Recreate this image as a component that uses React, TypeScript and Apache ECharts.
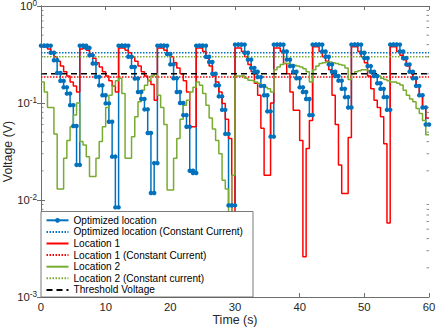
import React, { useEffect, useRef } from 'react';
import * as echarts from 'echarts';

// ---- data ----
const timeStart = 0;
const timeStep = 0.5;
const xMin = 0;
const xMax = 60;
const xInterval = 10;
const yMin = 0.001;
const yMax = 1;

const optimizedLocation = [
  0.39, 0.39, 0.39, 0.33, 0.276, 0.204, 0.169, 0.145, 0.125, 0.095, 0.058, 0.023,
  0.39, 0.39, 0.37, 0.31, 0.255, 0.186, 0.152, 0.12, 0.099, 0.064, 0.028, 0.0084,
  0.39, 0.39, 0.39, 0.30, 0.235, 0.179, 0.13, 0.11, 0.086, 0.049, 0.0118, 0.024,
  0.39, 0.39, 0.39, 0.32, 0.25, 0.18, 0.13, 0.10, 0.075, 0.057, 0.02, 0.019,
  0.39, 0.39, 0.39, 0.30, 0.265, 0.2, 0.152, 0.117, 0.085, 0.048, 0.0088, 0.0088,
  0.40, 0.40, 0.40, 0.33, 0.28, 0.23, 0.21, 0.185, 0.15, 0.12, 0.082, 0.045,
  0.40, 0.40, 0.40, 0.34, 0.28, 0.24, 0.21, 0.18, 0.145, 0.13, 0.11, 0.075,
  0.40, 0.40, 0.40, 0.34, 0.30, 0.25, 0.21, 0.19, 0.17, 0.14, 0.115, 0.09,
  0.40, 0.40, 0.40, 0.33, 0.29, 0.24, 0.21, 0.19, 0.16, 0.14, 0.115, 0.085,
  0.40, 0.40, 0.40, 0.34, 0.29, 0.25, 0.21, 0.18, 0.15, 0.12, 0.09, 0.06,
];

const location1 = [
  0.38, 0.38, 0.36, 0.33, 0.30, 0.27, 0.24, 0.21, 0.19, 0.165, 0.15, 0.13,
  0.36, 0.37, 0.35, 0.32, 0.29, 0.26, 0.235, 0.21, 0.19, 0.17, 0.15, 0.13,
  0.37, 0.37, 0.35, 0.33, 0.30, 0.27, 0.24, 0.21, 0.19, 0.17, 0.155, 0.107,
  0.37, 0.37, 0.35, 0.33, 0.30, 0.26, 0.23, 0.20, 0.17, 0.13, 0.057, 0.057,
  0.37, 0.37, 0.34, 0.29, 0.24, 0.19, 0.165, 0.13, 0.099, 0.068, 0.043, 0.003,
  0.37, 0.37, 0.34, 0.30, 0.25, 0.21, 0.16, 0.12, 0.055, 0.018, 0.018, 0.10,
  0.37, 0.37, 0.34, 0.255, 0.2, 0.13, 0.084, 0.084, 0.041, 0.0026, 0.034, 0.066,
  0.38, 0.38, 0.34, 0.30, 0.27, 0.22, 0.12, 0.06, 0.023, 0.0117, 0.0117, 0.044,
  0.38, 0.38, 0.34, 0.30, 0.26, 0.19, 0.14, 0.107, 0.09, 0.072, 0.038, 0.0058,
  0.38, 0.38, 0.34, 0.31, 0.28, 0.24, 0.21, 0.18, 0.15, 0.12, 0.09, 0.07,
];

const location2 = [
  0.165, 0.13, 0.09, 0.09, 0.048, 0.013, 0.013, 0.027, 0.041, 0.057, 0.075, 0.1,
  0.04, 0.037, 0.028, 0.0175, 0.0175, 0.027, 0.04, 0.057, 0.09, 0.12, 0.15, 0.17,
  0.18, 0.125, 0.027, 0.027, 0.045, 0.072, 0.103, 0.135, 0.152, 0.172, 0.19, 0.2,
  0.12, 0.09, 0.06, 0.0127, 0.0127, 0.027, 0.043, 0.068, 0.095, 0.107, 0.13, 0.145,
  0.165, 0.152, 0.125, 0.095, 0.07, 0.054, 0.041, 0.03, 0.016, 0.013, 0.004, 0.018,
  0.19, 0.19, 0.19, 0.18, 0.172, 0.17, 0.165, 0.16, 0.15, 0.145, 0.14, 0.13,
  0.22, 0.235, 0.25, 0.255, 0.255, 0.25, 0.245, 0.24, 0.235, 0.225, 0.21, 0.165,
  0.22, 0.24, 0.255, 0.26, 0.265, 0.265, 0.26, 0.255, 0.25, 0.245, 0.23, 0.175,
  0.20, 0.21, 0.215, 0.22, 0.22, 0.215, 0.205, 0.195, 0.19, 0.18, 0.175, 0.17,
  0.165, 0.165, 0.16, 0.153, 0.135, 0.12, 0.11, 0.103, 0.088, 0.078, 0.066, 0.047,
];

const optimizedConstant = 0.33;
const location1Constant = 0.185;
const location2Constant = 0.30;
const thresholdVoltage = 0.20;

const yMinorTickValues = [
  0.002, 0.003, 0.004, 0.005, 0.006, 0.007, 0.008, 0.009,
  0.02, 0.03, 0.04, 0.05, 0.06, 0.07, 0.08, 0.09,
  0.2, 0.3, 0.4, 0.5, 0.6, 0.7, 0.8, 0.9,
];

const seriesNames = [
  'Optimized location',
  'Optimized location (Constant Current)',
  'Location 1',
  'Location 1 (Constant Current)',
  'Location 2',
  'Location 2 (Constant current)',
  'Threshold Voltage',
];

// ---- style ----
const FONT = '"Liberation Sans", Arial, Helvetica, sans-serif';
const BLUE = '#0072BD';
const RED = '#FF0000';
const GREEN = '#77AC30';
const AXIS = '#6e6e6e';
const TEXT = '#262626';

function stairs(values: number[]) {
  const pts: number[][] = [];
  values.forEach((v, i) => {
    const t0 = timeStart + i * timeStep;
    pts.push([t0, v]);
    pts.push([t0 + timeStep, v]);
  });
  return pts;
}

function hline(v: number) {
  return [
    [xMin, v],
    [xMax, v],
  ];
}

function buildOption() {
  const lineBase = {
    type: 'line',
    xAxisIndex: 0,
    yAxisIndex: 0,
    symbol: 'none',
    showSymbol: false,
    silent: true,
    animation: false,
    z: 2,
  };
  return {
    animation: false,
    backgroundColor: '#fff',
    textStyle: { fontFamily: FONT },
    grid: { left: 41, right: 7, top: 6, bottom: 30, containLabel: false, outerBoundsMode: 'none' },
    graphic: [
      {
        type: 'rect',
        z: 20,
        silent: true,
        shape: { x: 41, y: 211.5, width: 212, height: 85.5 },
        style: { fill: '#fff', stroke: '#595959', lineWidth: 0.8 },
      },
    ],
    legend: {
      orient: 'vertical',
      left: 41,
      top: 212,
      z: 30,
      padding: [2.5, 8, 1.5, 4.5],
      itemGap: 0,
      itemWidth: 22,
      itemHeight: 6,
      selectedMode: false,
      backgroundColor: 'transparent',
      borderWidth: 0,
      textStyle: { fontSize: 10.1, color: '#000', fontFamily: FONT, lineHeight: 11.6 },
      data: seriesNames.map((n, i) => (i === 0 ? { name: n } : { name: n, itemStyle: { opacity: 0 } })),
    },
    xAxis: [
      {
        type: 'value',
        min: xMin,
        max: xMax,
        interval: xInterval,
        position: 'bottom',
        name: 'Time (s)',
        nameLocation: 'middle',
        nameGap: 17,
        nameMoveOverlap: false,
        nameTextStyle: { fontSize: 12.4, color: TEXT, fontFamily: FONT },
        axisLine: { show: true, lineStyle: { color: AXIS, width: 1 } },
        axisTick: { show: true, inside: true, length: 4, lineStyle: { color: AXIS } },
        axisLabel: { fontSize: 11.3, color: TEXT, margin: 4, fontFamily: FONT },
        splitLine: { show: false },
      },
      {
        type: 'value',
        min: xMin,
        max: xMax,
        interval: xInterval,
        position: 'top',
        axisLine: { show: true, lineStyle: { color: AXIS, width: 1 } },
        axisTick: { show: true, inside: true, length: 4, lineStyle: { color: AXIS } },
        axisLabel: { show: false },
        splitLine: { show: false },
      },
    ],
    yAxis: [
      {
        type: 'log',
        logBase: 10,
        min: yMin,
        max: yMax,
        position: 'left',
        name: 'Voltage (V)',
        nameLocation: 'middle',
        nameGap: 27,
        nameMoveOverlap: false,
        nameTextStyle: { fontSize: 12.4, color: TEXT, fontFamily: FONT },
        axisLine: { show: true, lineStyle: { color: AXIS, width: 1 } },
        axisTick: { show: true, inside: true, length: 4, lineStyle: { color: AXIS } },
        axisLabel: {
          margin: 4,
          padding: [0, 0, 1, 0],
          formatter: (v: number) => `{b|10}{e|${Math.round(Math.log10(v))}}`,
          rich: {
            b: { fontSize: 11.3, color: TEXT, fontFamily: FONT, lineHeight: 12.5, verticalAlign: 'bottom' },
            e: { fontSize: 8.2, color: TEXT, fontFamily: FONT, lineHeight: 8.2, verticalAlign: 'top' },
          },
        },
        splitLine: { show: false },
      },
      {
        type: 'log',
        logBase: 10,
        min: yMin,
        max: yMax,
        position: 'right',
        axisLine: { show: true, lineStyle: { color: AXIS, width: 1 } },
        axisTick: { show: true, inside: true, length: 4, lineStyle: { color: AXIS } },
        axisLabel: { show: false },
        splitLine: { show: false },
      },
    ],
    series: [
      {
        ...lineBase,
        name: seriesNames[0],
        data: stairs(optimizedLocation),
        symbol: 'circle',
        symbolSize: 4.5,
        showSymbol: true,
        showAllSymbol: true,
        itemStyle: { color: BLUE },
        lineStyle: { color: BLUE, width: 1.5 },
      },
      {
        ...lineBase,
        name: seriesNames[1],
        data: hline(optimizedConstant),
        itemStyle: { color: BLUE },
        lineStyle: { color: BLUE, width: 1.5, type: [1.5, 1.5] },
      },
      {
        ...lineBase,
        name: seriesNames[2],
        data: stairs(location1),
        itemStyle: { color: RED },
        lineStyle: { color: RED, width: 1.5 },
      },
      {
        ...lineBase,
        name: seriesNames[3],
        data: hline(location1Constant),
        itemStyle: { color: RED },
        lineStyle: { color: RED, width: 1.5, type: [1.5, 1.5] },
      },
      {
        ...lineBase,
        name: seriesNames[4],
        data: stairs(location2),
        itemStyle: { color: GREEN },
        lineStyle: { color: GREEN, width: 1.5 },
      },
      {
        ...lineBase,
        name: seriesNames[5],
        data: hline(location2Constant),
        itemStyle: { color: GREEN },
        lineStyle: { color: GREEN, width: 1.5, type: [1.5, 1.5] },
      },
      {
        ...lineBase,
        name: seriesNames[6],
        data: hline(thresholdVoltage),
        itemStyle: { color: '#000' },
        lineStyle: { color: '#000', width: 1.5, type: [6, 4] },
      },
      {
        type: 'custom',
        name: 'minorTicks',
        xAxisIndex: 0,
        yAxisIndex: 0,
        silent: true,
        clip: false,
        z: 3,
        data: yMinorTickValues.map((v) => [xMin, v]),
        renderItem: (_params: any, api: any) => {
          const v = api.value(1);
          const l = api.coord([xMin, v]);
          const r = api.coord([xMax, v]);
          return {
            type: 'group',
            children: [
              { type: 'line', shape: { x1: l[0], y1: l[1], x2: l[0] + 2.5, y2: l[1] }, style: { stroke: AXIS, lineWidth: 0.8 } },
              { type: 'line', shape: { x1: r[0] - 2.5, y1: r[1], x2: r[0], y2: r[1] }, style: { stroke: AXIS, lineWidth: 0.8 } },
            ],
          };
        },
      },
    ],
  };
}

export default function App() {
  const ref = useRef<HTMLDivElement>(null);
  useEffect(() => {
    if (!ref.current) return;
    const chart = echarts.init(ref.current, null, { renderer: 'svg' });
    chart.setOption(buildOption() as any);
    return () => chart.dispose();
  }, []);
  return (
    <div
      ref={ref}
      style={{ position: 'fixed', left: 0, top: 0, width: 436, height: 327, background: '#fff' }}
    />
  );
}
